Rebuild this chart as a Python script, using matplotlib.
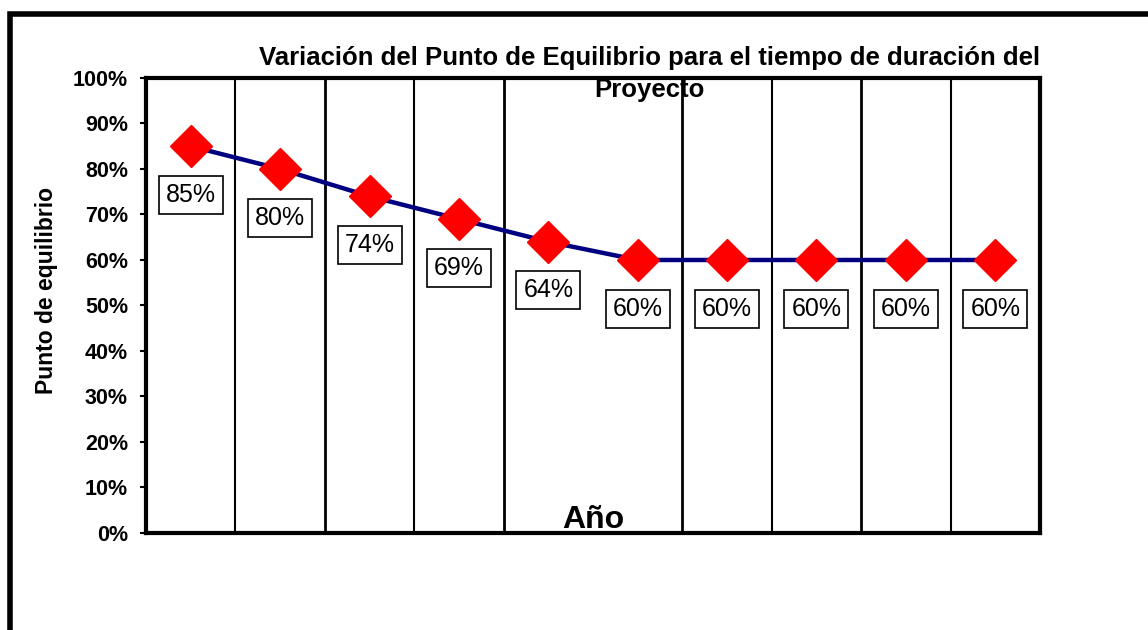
import matplotlib

matplotlib.use("Agg")
import matplotlib.pyplot as plt
from matplotlib.patches import Rectangle
from matplotlib.ticker import MultipleLocator, PercentFormatter

# datos
anios = list(range(1, 11))
punto_equilibrio = [0.85, 0.80, 0.74, 0.69, 0.64, 0.60, 0.60, 0.60, 0.60, 0.60]
etiquetas = ["85%", "80%", "74%", "69%", "64%", "60%", "60%", "60%", "60%", "60%"]

titulo = "Variación del Punto de Equilibrio para el tiempo de duración del\nProyecto"

plt.rcParams["font.family"] = ["Liberation Sans", "DejaVu Sans"]


def plot_punto_equilibrio():
    fig = plt.figure(figsize=(11.48, 6.3), dpi=100)
    ax = fig.add_axes([0.1272, 0.1540, 0.7787, 0.7222])

    # lineas verticales entre categorias (falta la del medio en el original)
    for i in range(1, len(anios)):
        if i == 5:
            continue
        ax.axvline(i + 0.5, color="black", linewidth=1.5 if i % 2 else 2.0, zorder=1)

    ax.plot(anios, punto_equilibrio, color="#000080", linewidth=3.2, zorder=2)
    ax.plot(
        anios,
        punto_equilibrio,
        linestyle="none",
        marker="D",
        markersize=21,
        markerfacecolor="#ff0000",
        markeredgecolor="#ff0000",
        zorder=3,
    )

    for x, y, txt in zip(anios, punto_equilibrio, etiquetas):
        ax.annotate(
            txt,
            (x, y),
            xytext=(0, -35),
            textcoords="offset points",
            ha="center",
            va="center",
            fontsize=18,
            bbox=dict(boxstyle="square,pad=0.28", facecolor="white",
                      edgecolor="black", linewidth=1.2),
            zorder=4,
        )

    ax.set_xlim(0.5, 10.5)
    ax.set_ylim(0, 1)
    ax.yaxis.set_major_locator(MultipleLocator(0.1))
    ax.yaxis.set_major_formatter(PercentFormatter(1.0, decimals=0))
    ax.set_xticks([])
    ax.tick_params(axis="y", length=4, width=1.5, pad=9, labelsize=15.5)
    for lbl in ax.get_yticklabels():
        lbl.set_fontweight("bold")

    for sp in ax.spines.values():
        sp.set_linewidth(3)

    ax.set_ylabel("Punto de equilibrio", fontsize=16.5, fontweight="bold")
    ax.yaxis.set_label_coords(-0.098, 0.534)
    ax.set_xlabel("Año", fontsize=23, fontweight="bold", va="bottom")
    ax.xaxis.set_label_coords(0.5, -0.005)

    fig.text(0.566, 1 - 46 / 630, titulo, ha="center", va="top",
             fontsize=18.5, fontweight="bold", linespacing=1.42)

    # marco exterior del grafico
    fig.add_artist(Rectangle((10 / 1148, -0.2), 1.5, 1.2 - 14 / 630,
                             transform=fig.transFigure, fill=False,
                             edgecolor="black", linewidth=4, clip_on=False))

    plt.savefig("out.png", dpi=100)


if __name__ == "__main__":
    plot_punto_equilibrio()
